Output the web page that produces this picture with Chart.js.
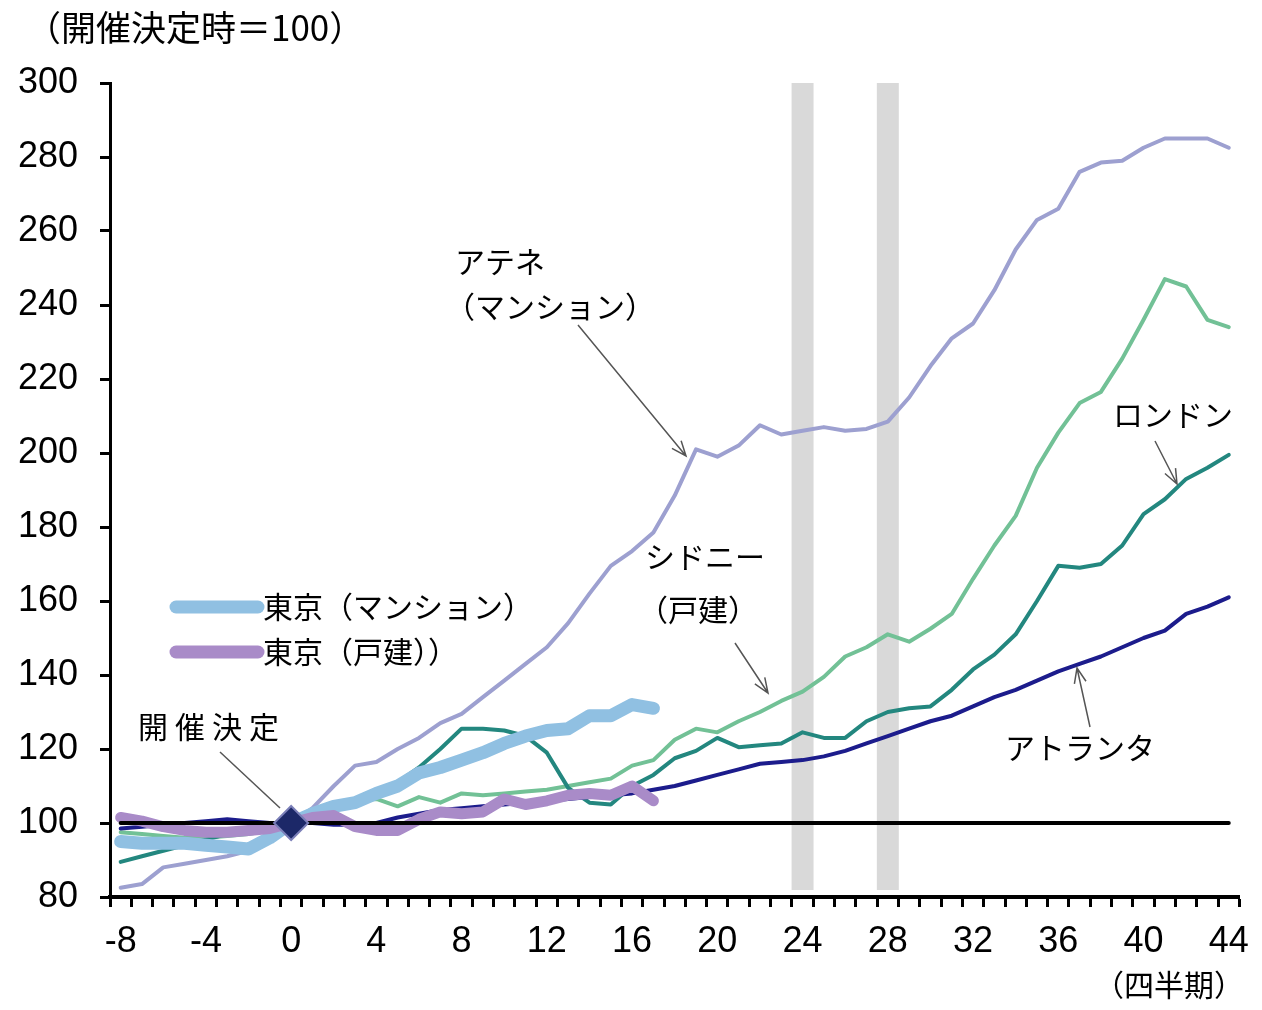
<!DOCTYPE html>
<html lang="ja">
<head>
<meta charset="utf-8">
<title>開催決定後の住宅価格</title>
<script src="https://cdn.jsdelivr.net/npm/chart.js@4.4.1/dist/chart.umd.min.js"></script>
<style>
  html, body { margin: 0; padding: 0; background: #fff; }
  #wrap { width: 1262px; height: 1010px; }
</style>
</head>
<body>
<div id="wrap"><canvas id="chart" width="1262" height="1010"></canvas></div>
<script>
"use strict";

// 四半期（開催決定 = 0）
const quarters = [
  -8, -7, -6, -5, -4, -3, -2, -1, 0, 1, 2, 3, 4, 5, 6, 7, 8, 9, 10, 11,
  12, 13, 14, 15, 16, 17, 18, 19, 20, 21, 22, 23, 24, 25, 26, 27, 28, 29,
  30, 31, 32, 33, 34, 35, 36, 37, 38, 39, 40, 41, 42, 43, 44,
];

const athens = [
  82.5, 83.5, 88, 89, 90, 91, 92.5, 96, 100, 104,
  110, 115.5, 116.5, 120, 123, 127, 129.5, 134, 138.5, 143,
  147.5, 154, 162, 169.5, 173.5, 178.5, 188.5, 201, 199, 202,
  207.5, 205, 206, 207, 206, 206.5, 208.5, 215, 223.5, 231,
  235, 244, 255, 263, 266, 276, 278.5, 279, 282.5, 285,
  285, 285, 282.5,
];
const sydney = [
  97.5, 97, 96.5, 96, 96, 96.5, 97, 98, 100, 102,
  104, 106, 106.5, 104.5, 107, 105.5, 108, 107.5, 108, 108.5,
  109, 110, 111, 112, 115.5, 117, 122.5, 125.5, 124.5, 127.5,
  130, 133, 135.5, 139.5, 145, 147.5, 151, 149, 152.5, 156.5,
  166, 175, 183, 196, 205.5, 213.5, 216.5, 225.5, 236, 247,
  245, 236, 234,
];
const london = [
  89.5, 91, 92.5, 94, 95.5, 97, 98, 99, 100, 101.5,
  103.5, 105.5, 108, 111, 115, 120, 125.5, 125.5, 125, 123.5,
  119, 109.5, 105.5, 105, 110, 113, 117.5, 119.5, 123, 120.5,
  121, 121.5, 124.5, 123, 123, 127.5, 130, 131, 131.5, 136,
  141.5, 145.5, 151, 160, 169.5, 169, 170, 175, 183.5, 187.5,
  193, 196, 199.5,
];
const atlanta = [
  98.5, 99, 99.5, 100, 100.5, 101, 100.5, 100, 100, 100,
  99.5, 99.5, 100, 101.5, 102.5, 103.5, 104, 104.5, 105, 105.5,
  106, 106.5, 107, 107.5, 108, 109, 110, 111.5, 113, 114.5,
  116, 116.5, 117, 118, 119.5, 121.5, 123.5, 125.5, 127.5, 129,
  131.5, 134, 136, 138.5, 141, 143, 145, 147.5, 150, 152,
  156.5, 158.5, 161,
];
// 東京は -8 〜 17 四半期
const tokyoCondo = [
  95, 94.5, 94.5, 94.5, 94, 93.5, 93, 96, 100, 102.5,
  104.5, 105.5, 108, 110, 113.5, 115, 117, 119, 121.5, 123.5,
  125, 125.5, 129, 129, 132, 131,
];
const tokyoHouse = [
  101.5, 100.5, 99, 98, 97.5, 97.5, 98, 98.5, 100, 101.5,
  102, 99, 98, 98, 101, 103, 102.5, 103, 106.5, 105,
  106, 107.5, 108, 107.5, 110, 106,
];

const baseIndex = 100;
const decisionQuarter = 0;
const bandQuarters = [24, 28];
const bandRange = [82, 300];

const JP = "'Noto Sans CJK JP', 'Noto Sans', sans-serif";
const NUM = "'Liberation Sans', Arial, sans-serif";

const line = (data, color, width, order) => ({
  type: "line",
  data,
  borderColor: color,
  borderWidth: width,
  pointRadius: 0,
  tension: 0,
  fill: false,
  borderCapStyle: "round",
  borderJoinStyle: "round",
  order,
});

const drawArrow = (ctx, x1, y1, x2, y2, head) => {
  ctx.beginPath();
  ctx.moveTo(x1, y1);
  ctx.lineTo(x2, y2);
  if (head) {
    const a = Math.atan2(y2 - y1, x2 - x1);
    const len = 16;
    ctx.moveTo(x2 - len * Math.cos(a - 0.38), y2 - len * Math.sin(a - 0.38));
    ctx.lineTo(x2, y2);
    ctx.lineTo(x2 - len * Math.cos(a + 0.38), y2 - len * Math.sin(a + 0.38));
  }
  ctx.stroke();
};

const notes = {
  id: "notes",
  afterDraw(chart) {
    const ctx = chart.ctx;
    ctx.save();
    ctx.fillStyle = "#000";
    ctx.textBaseline = "middle";
    ctx.textAlign = "left";

    ctx.font = "35px " + JP;
    ctx.fillText("（開催決定時＝100）", 26, 28);
    ctx.font = "30px " + JP;
    ctx.fillText("（四半期）", 1094, 985);

    ctx.fillText("アテネ", 455, 262);
    ctx.fillText("（マンション）", 445, 307);
    ctx.fillText("シドニー", 645, 557);
    ctx.fillText("（戸建）", 638, 610);
    ctx.fillText("ロンドン", 1113, 415);
    ctx.fillText("アトランタ", 1005, 748);
    ctx.letterSpacing = "7px";
    ctx.fillText("開催決定", 138, 727);
    ctx.letterSpacing = "0px";

    // 凡例（東京）
    ctx.lineCap = "round";
    ctx.lineWidth = 13;
    ctx.strokeStyle = "#90c0e2";
    ctx.beginPath(); ctx.moveTo(176, 607); ctx.lineTo(258, 607); ctx.stroke();
    ctx.strokeStyle = "#a98bc8";
    ctx.beginPath(); ctx.moveTo(176, 652); ctx.lineTo(258, 652); ctx.stroke();
    ctx.font = "30px " + JP;
    ctx.fillText("東京（マンション）", 263, 607);
    ctx.fillText("東京（戸建））", 263, 652);

    // 矢印
    ctx.lineCap = "butt";
    ctx.lineWidth = 1.5;
    ctx.strokeStyle = "#555";
    drawArrow(ctx, 578, 325, 686, 456, true);
    drawArrow(ctx, 735, 643, 768, 693, true);
    drawArrow(ctx, 1155, 441, 1177, 484, true);
    drawArrow(ctx, 1090, 727, 1077, 668, true);
    drawArrow(ctx, 220, 752, 280, 808, false);
    ctx.restore();
  },
};

const config = {
  type: "line",
  data: {
    labels: quarters,
    datasets: [
      {
        type: "line",
        data: quarters.map((q) => (q === decisionQuarter ? baseIndex : null)),
        showLine: false,
        pointStyle: "rectRot",
        pointRadius: 17,
        pointBackgroundColor: "#1c2868",
        pointBorderColor: "#7b7fb8",
        pointBorderWidth: 2,
        order: 0,
      },
      line(quarters.map(() => baseIndex), "#000", 4, 1),
      line(tokyoHouse, "#a98bc8", 11, 2),
      line(tokyoCondo, "#90c0e2", 13, 3),
      line(atlanta, "#1c1c8c", 4, 4),
      line(london, "#23877f", 4, 5),
      line(sydney, "#72c196", 4, 6),
      line(athens, "#9da0d0", 4, 7),
      {
        type: "bar",
        data: quarters.map((q) => (bandQuarters.includes(q) ? bandRange : null)),
        backgroundColor: "#d9d9d9",
        barPercentage: 1,
        categoryPercentage: 1,
        order: 10,
      },
    ],
  },
  options: {
    responsive: false,
    animation: false,
    devicePixelRatio: 1,
    layout: { padding: { top: 83, right: 21, left: 0, bottom: 0 } },
    plugins: { legend: { display: false }, tooltip: { enabled: false } },
    scales: {
      x: {
        type: "category",
        offset: true,
        afterFit: (scale) => { scale.height = 113; },
        border: { display: true, color: "#000", width: 4 },
        grid: {
          offset: true,
          drawOnChartArea: false,
          drawTicks: true,
          tickLength: 10,
          tickWidth: 3,
          tickColor: "#000",
        },
        ticks: {
          autoSkip: false,
          maxRotation: 0,
          padding: 13,
          color: "#000",
          font: { family: NUM, size: 36 },
          callback(value) {
            const q = Number(this.getLabelForValue(value));
            return q % 4 === 0 ? String(q) : "";
          },
        },
      },
      y: {
        min: 80,
        max: 300,
        afterFit: (scale) => { scale.width = 110; },
        border: { display: true, color: "#000", width: 3 },
        grid: {
          drawOnChartArea: false,
          drawTicks: true,
          tickLength: 10,
          tickWidth: 3,
          tickColor: "#000",
        },
        ticks: {
          stepSize: 20,
          padding: 22,
          color: "#000",
          font: { family: NUM, size: 36 },
        },
      },
    },
  },
  plugins: [notes],
};

const housingChart = new Chart(document.getElementById("chart"), config);
</script>
</body>
</html>
